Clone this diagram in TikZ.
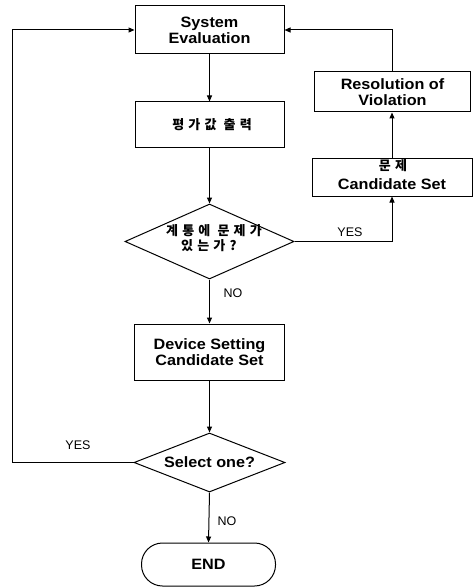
\documentclass[tikz,border=0pt]{standalone}
\usepackage{fontspec}
\setmainfont{Liberation Sans}
\newfontfamily\lab[FakeStretch=1.08]{Liberation Sans}
\newfontfamily\kr[LetterSpace=32]{Noto Sans CJK KR}
\usetikzlibrary{shapes.geometric,arrows.meta}
\begin{document}
\begin{tikzpicture}[x=1pt,y=1pt,
  box/.style={draw,line width=1pt,rectangle,inner sep=0pt,align=center,
    font=\lab\bfseries\fontsize{15}{16}\selectfont},
  dia/.style={draw,line width=1pt,diamond,inner sep=0pt},
  term/.style={draw,line width=1pt,rounded corners=21pt,inner sep=0pt,
    font=\lab\bfseries\fontsize{15}{16}\selectfont},
  ko/.style={font=\kr\bfseries\fontsize{13}{15}\selectfont,inner sep=0pt},
  lbl/.style={font=\fontsize{12.5}{14}\selectfont,inner sep=0pt},
  conn/.style={line width=1pt},
  arr/.style={line width=1pt,-{Triangle[length=6pt,width=5pt]}}]
\useasboundingbox (0,0) rectangle (474,-588);
\node[box,minimum width=149,minimum height=48] (se) at (209.5,-30) {System\\Evaluation};
\node[box,minimum width=149,minimum height=46] (out) at (209.5,-125) {};
\node[ko] (outt) at (212,-125) {평가값 출력};
\node[dia,minimum width=169,minimum height=75] (d1) at (209.5,-241.5) {};
\node[ko,align=left] (d1t) at (214,-238.5) {계통에 문제가\\\hspace{15pt}있는가?};
\node[box,minimum width=156,minimum height=40] (res) at (392.5,-92) {Resolution of\\Violation};
\node[box,minimum width=160,minimum height=37] (cand) at (392,-177.5) {};
\node[ko] (candk) at (393,-166) {문제};
\node[font=\lab\bfseries\fontsize{15}{16}\selectfont] (candt) at (392,-184) {Candidate Set};
\node[box,minimum width=150,minimum height=56] (dev) at (209.5,-352) {Device Setting\\Candidate Set};
\node[dia,minimum width=151,minimum height=59] (d2) at (209.5,-462.5) {};
\node[font=\lab\bfseries\fontsize{15}{16}\selectfont] (d2t) at (209.5,-462.5) {Select one?};
\node[term,minimum width=134,minimum height=43] (end) at (208.5,-564.5) {END};
\coordinate (lx) at (12,0);
\draw[arr] (se.south) -- (out.north);
\draw[arr] (out.south) -- (d1.north);
\draw[arr] (d1.east) -- (d1.east -| cand.south) -- (cand.south);
\draw[arr] (cand.north) -- (cand.north |- res.south);
\draw[arr] (res.north -| cand.north) -- (cand.north |- se.east) -- (se.east);
\draw[arr] (d1.south) -- (dev.north);
\draw[arr] (dev.south) -- (d2.north);
\draw[arr] (d2.west) -- (lx |- d2.west) -- (lx |- se.west) -- (se.west);
\draw[arr] (d2.south) -- (end.north);
\node[lbl] (yes1) at (350,-232) {YES};
\node[lbl] (no1) at (233,-293) {NO};
\node[lbl] (yes2) at (78,-445) {YES};
\node[lbl] (no2) at (227,-521) {NO};
\end{tikzpicture}
\end{document}
